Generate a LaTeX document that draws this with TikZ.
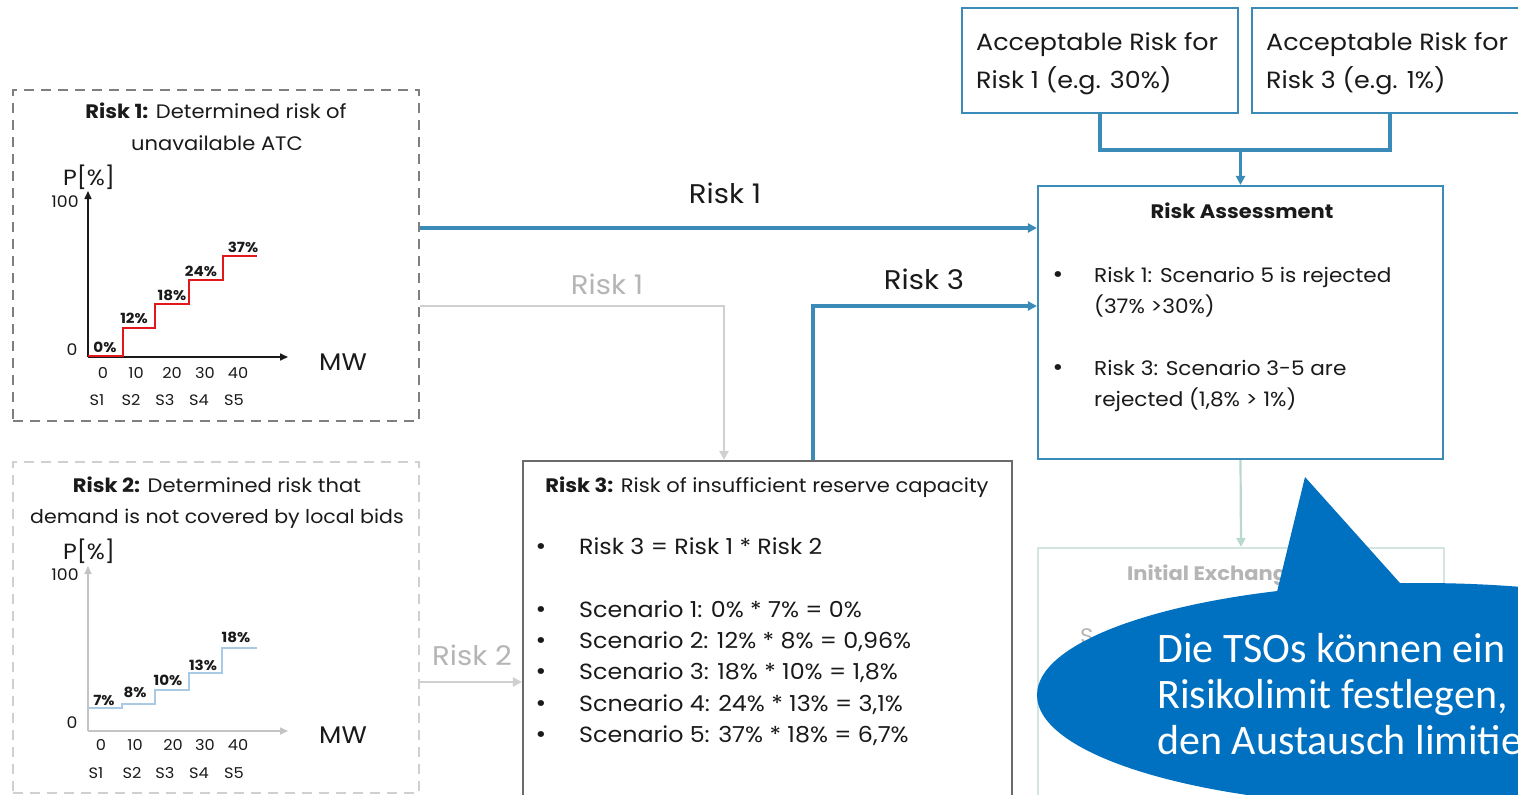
\documentclass[tikz,border=0pt]{standalone}
\usepackage{fontspec}
\setmainfont{Poppins}[FakeStretch=1.08]
\newfontfamily\callfont{Carlito}
\usetikzlibrary{arrows.meta,shapes.geometric}
\definecolor{bl}{HTML}{3A8BB8}
\definecolor{cb}{HTML}{0070C0}
\definecolor{dg}{HTML}{7F7F7F}
\definecolor{bx}{HTML}{6A6A6A}
\definecolor{lg}{HTML}{D0D0D0}
\definecolor{lt}{HTML}{B5B5B5}
\definecolor{rd}{HTML}{E3161B}
\definecolor{sb}{HTML}{A9CAE4}
\definecolor{ie}{HTML}{D3E5E0}
\definecolor{iea}{HTML}{B9D8D0}
\definecolor{tx}{HTML}{1A1A1A}
\newcommand\fsz[1]{\fontsize{#1}{#1}\selectfont}
\begin{document}
\begin{tikzpicture}[x=1pt,y=-1pt,
  box/.style={draw, inner sep=0pt, line width=2.2pt, fill=white},
  t/.style={inner sep=0pt, anchor=base, text=tx},
  tl/.style={inner sep=0pt, anchor=base west, text=tx},
  arr/.style={line width=3.2pt, draw=bl, -{Triangle[length=9pt,width=9pt]}},
  garr/.style={line width=2.4pt, draw=lg, -{Triangle[length=9pt,width=9pt]}},
  axis/.style={line width=1.6pt, -{Triangle[length=8pt,width=7pt]}},
  blt/.style={inner sep=0pt, anchor=base, text=tx, font=\fsz{24}},
  sc/.style={tl, font=\fsz{22}},
  ra/.style={tl, font=\fsz{20}},
  ch/.style={t, font=\fsz{15}},
  pc/.style={t, font=\bfseries\fsz{14}},
]
\clip (0,0) rectangle (1518,795);
\fill[white] (0,0) rectangle (1518,795);

% ---------- boxes ----------
\node[box, draw=dg, dash pattern=on 10pt off 7pt, line width=2pt, minimum width=406pt, minimum height=331pt] (r1box) at (216,255.5) {};
\node[box, draw=lg, dash pattern=on 10pt off 7pt, line width=2pt, minimum width=406pt, minimum height=331pt] (r2box) at (216,627.5) {};
\node[box, draw=bx, minimum width=489pt, minimum height=340pt] (r3box) at (767.5,631) {};
\node[box, draw=bl, minimum width=276pt, minimum height=105pt] (ar1) at (1100,60.5) {};
\node[box, draw=bl, minimum width=276pt, minimum height=105pt] (ar3) at (1390,60.5) {};
\node[box, draw=bl, minimum width=405pt, minimum height=273pt] (rabox) at (1240.5,322.5) {};
\node[box, draw=ie, minimum width=406pt, minimum height=272pt] (iebox) at (1241,684) {};

% ---------- connectors ----------
\coordinate (j) at (1240.5,150);
\draw[line width=3.2pt, draw=bl] (ar1.south) -- (ar1.south |- j) -- (ar3.south |- j) -- (ar3.south);
\draw[arr] (j) -- (rabox.north);
\coordinate (y1) at (0,228);
\draw[arr] (r1box.east |- y1) -- (rabox.west |- y1);
\coordinate (g1) at (724,306);
\draw[garr] (r1box.east |- g1) -- (g1) -- (g1 |- r3box.north);
\coordinate (b3) at (813,306);
\draw[arr] (b3 |- r3box.north) -- (b3) -- (rabox.west |- b3);
\coordinate (y2) at (0,682);
\draw[garr] (r2box.east |- y2) -- (r3box.west |- y2);
\draw[line width=2.2pt, draw=iea, -{Triangle[length=9pt,width=9pt]}] (rabox.south) -- (iebox.north);

% ---------- connector labels ----------
\node[t, font=\fsz{27}] (lr1) at (725,203) {Risk 1};
\node[t, font=\fsz{27}, text=lt] (lg1) at (607,294) {Risk 1};
\node[t, font=\fsz{27}] (lr3) at (924,289) {Risk 3};
\node[t, font=\fsz{27}, text=lt] (lr2) at (472,665) {Risk 2};

% ---------- acceptable risk boxes ----------
\node[tl, font=\fsz{23.5}] (ar1a) at (976,50) {Acceptable Risk for};
\node[tl, font=\fsz{23.5}] (ar1b) at (976,88) {Risk 1 (e.g. 30\%)};
\node[tl, font=\fsz{23.5}] (ar3a) at (1266,50) {Acceptable Risk for};
\node[tl, font=\fsz{23.5}] (ar3b) at (1266,88) {Risk 3 (e.g. 1\%)};

% ---------- risk assessment ----------
\node[t, font=\bfseries\fsz{19.5}] (ratitle) at (1242,218) {Risk Assessment};
\node[blt] (rab1) at (1058,282) {•};
\node[ra] (ra1) at (1094,282) {Risk 1: Scenario 5 is rejected};
\node[ra] (ra2) at (1094,313) {(37\% >30\%)};
\node[blt] (rab2) at (1058,375) {•};
\node[ra] (ra3) at (1094,375) {Risk 3: Scenario 3-5 are};
\node[ra] (ra4) at (1094,406) {rejected (1,8\% > 1\%)};

% ---------- initial exchange (mostly hidden) ----------
\node[tl, font=\bfseries\fsz{19.5}, text=lt] (ietitle) at (1127,580) {Initial Exchange};
\node[tl, font=\fsz{21}, text=lt] (ies) at (1080,643) {S};

% ---------- risk 3 box ----------
\node[t, font=\fsz{19.5}] (r3title) at (767,492) {\textbf{Risk 3:} Risk of insufficient reserve capacity};
\node[blt] (r3b0) at (541,554) {•};
\node[sc] (r3l0) at (579,554) {Risk 3 = Risk 1 * Risk 2};
\node[blt] (r3b1) at (541,617) {•};
\node[sc] (r3l1) at (579,617) {Scenario 1: 0\% * 7\% = 0\%};
\node[blt] (r3b2) at (541,648) {•};
\node[sc] (r3l2) at (579,648) {Scenario 2: 12\% * 8\% = 0,96\%};
\node[blt] (r3b3) at (541,679) {•};
\node[sc] (r3l3) at (579,679) {Scenario 3: 18\% * 10\% = 1,8\%};
\node[blt] (r3b4) at (541,711) {•};
\node[sc] (r3l4) at (579,711) {Scneario 4: 24\% * 13\% = 3,1\%};
\node[blt] (r3b5) at (541,742) {•};
\node[sc] (r3l5) at (579,742) {Scenario 5: 37\% * 18\% = 6,7\%};

% ---------- chart 1 ----------
\node[t, font=\fsz{19.5}] (c1t1) at (216,118) {\textbf{Risk 1:} Determined risk of};
\node[t, font=\fsz{19.5}] (c1t2) at (217,150) {unavailable ATC};
\node[t, font=\fsz{22}] (c1p) at (89,185) {P[\%]};
\node[t, font=\fsz{16}] (c1h) at (65,207) {100};
\node[t, font=\fsz{16}] (c1z) at (72,355) {0};
\draw[axis, draw=tx] (88,357) -- (88,191);
\draw[axis, draw=tx] (88,357) -- (288,357);
\draw[rd, line width=2.4pt] (88,356) -- (123,356) -- (123,328) -- (155,328) -- (155,304) -- (189,304) -- (189,280) -- (223,280) -- (223,256) -- (257,256);
\node[pc] (c1p0) at (105,352) {0\%};
\node[pc] (c1p1) at (134,323) {12\%};
\node[pc] (c1p2) at (172,300) {18\%};
\node[pc] (c1p3) at (201,276) {24\%};
\node[pc] (c1p4) at (243,252) {37\%};
\node[ch] (c1x0) at (103,378) {0};
\node[ch] (c1x1) at (136,378) {10};
\node[ch] (c1x2) at (172,378) {20};
\node[ch] (c1x3) at (205,378) {30};
\node[ch] (c1x4) at (238,378) {40};
\node[ch] (c1s1) at (97,405) {S1};
\node[ch] (c1s2) at (131,405) {S2};
\node[ch] (c1s3) at (165,405) {S3};
\node[ch] (c1s4) at (199,405) {S4};
\node[ch] (c1s5) at (234,405) {S5};
\node[t, font=\fsz{24}] (c1mw) at (343,370) {MW};

% ---------- chart 2 ----------
\begin{scope}[every node/.append style={text=lt}]
\node[t, font=\fsz{19.5}] (c2t1) at (217,492) {\textbf{Risk 2:} Determined risk that};
\node[t, font=\fsz{19}] (c2t2) at (217,523) {demand is not covered by local bids};
\node[t, font=\fsz{22}] (c2p) at (89,559) {P[\%]};
\node[t, font=\fsz{16}] (c2h) at (65,580) {100};
\node[t, font=\fsz{16}] (c2z) at (72,728) {0};
\draw[axis, draw=lt!80!white] (88,731) -- (88,566);
\draw[axis, draw=lt!80!white] (88,731) -- (288,731);
\draw[sb, line width=2pt] (88,708) -- (122,708) -- (122,704) -- (155,704) -- (155,690) -- (189,690) -- (189,673) -- (222,673) -- (222,648) -- (257,648);
\node[pc] (c2p0) at (104,705) {7\%};
\node[pc] (c2p1) at (135,697) {8\%};
\node[pc] (c2p2) at (168,685) {10\%};
\node[pc] (c2p3) at (203,670) {13\%};
\node[pc] (c2p4) at (236,642) {18\%};
\node[ch] (c2x0) at (101,750) {0};
\node[ch] (c2x1) at (135,750) {10};
\node[ch] (c2x2) at (173,750) {20};
\node[ch] (c2x3) at (205,750) {30};
\node[ch] (c2x4) at (238,750) {40};
\node[ch] (c2s1) at (96,778) {S1};
\node[ch] (c2s2) at (132,778) {S2};
\node[ch] (c2s3) at (165,778) {S3};
\node[ch] (c2s4) at (199,778) {S4};
\node[ch] (c2s5) at (234,778) {S5};
\node[t, font=\fsz{24}] (c2mw) at (343,743) {MW};
\end{scope}

% ---------- callout ----------
\node[ellipse, fill=cb, inner sep=0pt, minimum width=766pt, minimum height=224pt] (call) at (1420,695) {};
\coordinate (tip) at (1305,477);
\fill[cb] (tip) -- (1276,596) -- (1408,592) -- cycle;
\node[tl, text=white, font=\callfont\fsz{42}] (ct1) at (1157,662) {Die TSOs können ein};
\node[tl, text=white, font=\callfont\fsz{42}] (ct2) at (1157,708) {Risikolimit festlegen,};
\node[tl, text=white, font=\callfont\fsz{42}] (ct3) at (1157,754) {den Austausch limitie};
\end{tikzpicture}
\end{document}
